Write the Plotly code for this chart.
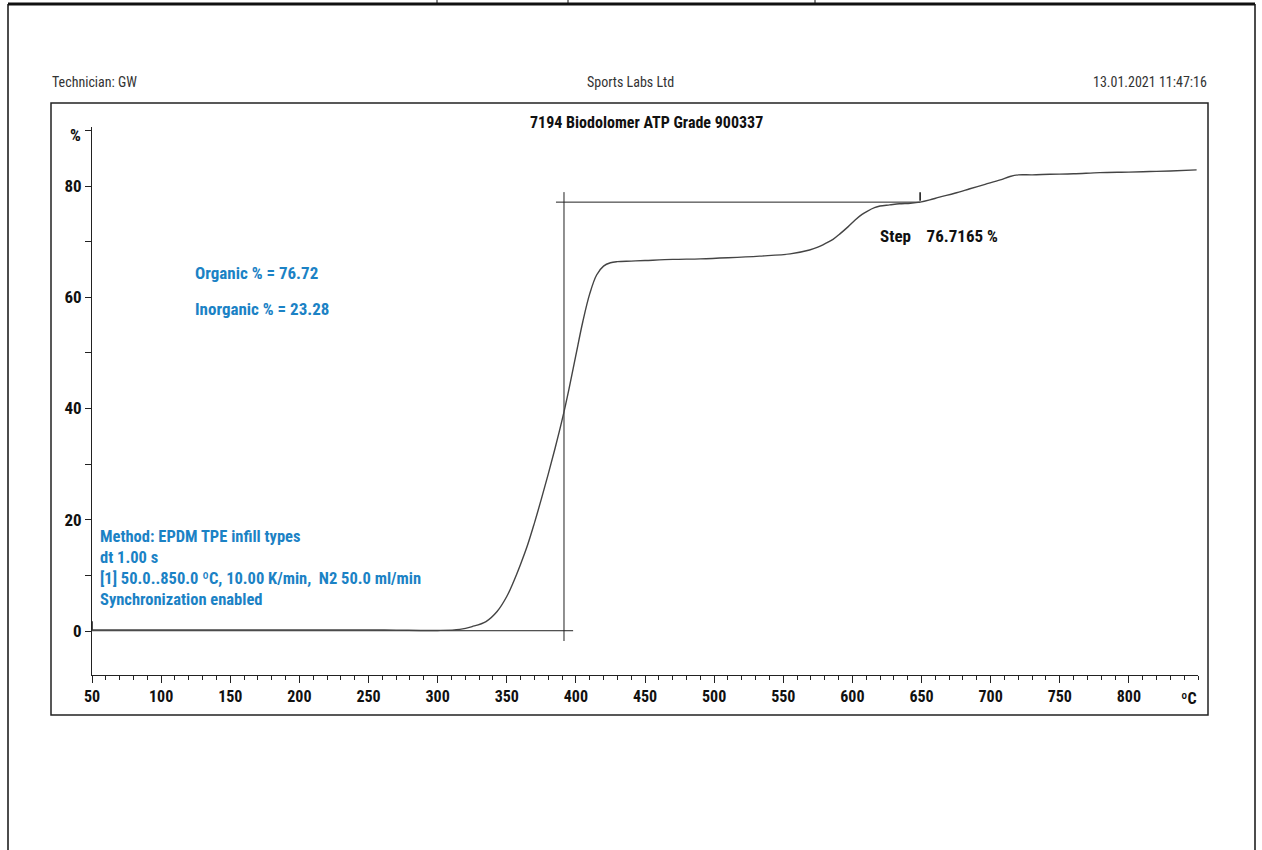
import plotly.graph_objects as go

# ---------------- data ----------------
temperature_c = [50, 70, 100, 150, 200, 250, 270, 300, 316, 325, 335, 343, 350, 355, 360, 365,
                 370, 375, 380, 385, 390, 395, 400, 405, 410, 415, 420, 425, 430, 440,
                 450, 470, 490, 510, 533, 555, 569, 575, 580, 586, 591, 597, 602, 607, 611, 616,
                 620, 627, 634, 642, 649, 656, 663, 674, 685, 696, 707, 714, 720, 730, 743, 760,
                 779, 800, 815, 830, 849]
mass_pct = [0.2, 0.2, 0.2, 0.2, 0.2, 0.2, 0.15, 0.1, 0.3, 0.8, 1.7, 3.5, 6.2, 8.9, 12.0, 15.4,
            19.4, 23.7, 28.2, 32.9, 37.9, 43.5, 49.6, 55.6, 60.6, 64.0, 65.6, 66.2, 66.4, 66.5,
            66.6, 66.8, 66.9, 67.1, 67.4, 67.8, 68.5, 69.0, 69.6, 70.4, 71.4, 72.7, 73.9, 74.9, 75.5, 76.1,
            76.4, 76.6, 76.8, 76.9, 77.1, 77.5, 78.0, 78.7, 79.5, 80.3, 81.1, 81.7, 82.0, 82.0, 82.1, 82.2,
            82.4, 82.5, 82.6, 82.7, 82.9]

# step evaluation construction lines
step_low_temps = [50, 398]
step_low_level = [0.05, 0.05]
step_high_temps = [385.6, 649]
step_high_level = [77.1, 77.1]
step_mid_temps = [391.4, 391.4]
step_mid_levels = [-1.8, 78.9]
event_temps = [50, 649]
event_levels = [1.0, 78.1]

x_tick_vals = [50, 100, 150, 200, 250, 300, 350, 400, 450, 500, 550, 600, 650, 700, 750, 800]
x_tick_text = ["50", "100", "150", "200", "250", "300", "350", "400", "450", "500", "550",
               "600", "650", "700", "750", "800"]
x_unit_text = "ºC"
x_unit_pos = 843.5
y_tick_vals = [0, 20, 40, 60, 80]
y_tick_text = ["0", "20", "40", "60", "80"]

title_text = "7194 Biodolomer ATP Grade 900337"
organic_text = "Organic % = 76.72"
inorganic_text = "Inorganic % = 23.28"
method_lines = ["Method: EPDM TPE infill types", "dt 1.00 s",
                "[1] 50.0..850.0 ºC, 10.00 K/min,  N2 50.0 ml/min", "Synchronization enabled"]
method_levels = [16.9, 13.3, 9.5, 5.75]
step_text = "Step&nbsp;&nbsp;&nbsp;&nbsp;76.7165 %"

# ---------------- layout geometry ----------------
W, H = 1262, 850
L, R, T, B = 92, 64, 127, 175
PW, PH = W - L - R, H - T - B
PX_PER_PCT = 5.5625


def px(xp):
    return (xp - L) / PW


def py(yp):
    return (H - B - yp) / PH


NARROW = "Liberation Sans Narrow, Roboto Condensed, Arial Narrow, Roboto, sans-serif"
BLUE = "#1b82c5"

fig = go.Figure()

for xs, ys in [(step_low_temps, step_low_level), (step_high_temps, step_high_level),
               (step_mid_temps, step_mid_levels)]:
    fig.add_trace(go.Scatter(x=xs, y=ys, mode="lines", line=dict(color="#222222", width=1),
                             hoverinfo="skip", showlegend=False))

fig.add_trace(go.Scatter(x=temperature_c, y=mass_pct, mode="lines", line_shape="spline",
                         line=dict(color="#444444", width=1.4), showlegend=False))
fig.add_trace(go.Scatter(x=event_temps, y=event_levels, mode="markers",
                         marker=dict(symbol="line-ns-open", size=6, color="#111",
                                     line=dict(color="#111", width=1.5)),
                         hoverinfo="skip", showlegend=False))

fig.update_xaxes(range=[50, 850], tickvals=x_tick_vals, ticktext=x_tick_text,
                 ticks="outside", ticklen=7, tickwidth=1, tickcolor="#222",
                 showline=True, linecolor="#222", linewidth=1, showgrid=False, zeroline=False,
                 minor=dict(dtick=10, tick0=50, ticks="outside", ticklen=4, tickcolor="#222", showgrid=False),
                 tickfont=dict(family=NARROW, size=16, color="#111", weight="bold"))
fig.update_yaxes(range=[-(675 - 631) / PX_PER_PCT, (631 - 127) / PX_PER_PCT],
                 tickvals=y_tick_vals, ticktext=y_tick_text,
                 ticks="outside", ticklen=6, tickwidth=1, tickcolor="#222",
                 showline=True, linecolor="#222", linewidth=1, showgrid=False, zeroline=False,
                 minor=dict(dtick=10, tick0=0, ticks="outside", ticklen=6, tickcolor="#222", showgrid=False),
                 tickfont=dict(family=NARROW, size=17, color="#111", weight="bold"))

shapes = []
# inner report frame
shapes.append(dict(type="rect", xref="paper", yref="paper", x0=px(51), x1=px(1208), y0=py(715), y1=py(103),
                   line=dict(color="#222", width=1.5)))
# page border
shapes.append(dict(type="line", xref="paper", yref="paper", x0=px(8), x1=px(8), y0=py(850), y1=py(4),
                   line=dict(color="#111", width=1.5)))
shapes.append(dict(type="line", xref="paper", yref="paper", x0=px(1255), x1=px(1255), y0=py(850), y1=py(4),
                   line=dict(color="#111", width=1.5)))
shapes.append(dict(type="line", xref="paper", yref="paper", x0=px(8), x1=px(1255), y0=py(4), y1=py(4),
                   line=dict(color="#111", width=3)))
for xs in [437, 568, 815]:
    shapes.append(dict(type="line", xref="paper", yref="paper", x0=px(xs), x1=px(xs), y0=py(4), y1=py(0),
                       line=dict(color="#111", width=1)))
fig.update_layout(shapes=shapes)

ann = []
hdr_font = dict(family=NARROW, size=14, color="#333")
ann.append(dict(text="Technician: GW", xref="paper", yref="paper", x=px(50), y=py(82),
                xanchor="left", yanchor="middle", showarrow=False, font=hdr_font))
ann.append(dict(text="Sports Labs Ltd", xref="paper", yref="paper", x=px(630), y=py(82),
                xanchor="center", yanchor="middle", showarrow=False, font=hdr_font))
ann.append(dict(text="13.01.2021 11:47:16", xref="paper", yref="paper", x=px(1209), y=py(82),
                xanchor="right", yanchor="middle", showarrow=False, font=hdr_font))
ann.append(dict(text=title_text, xref="paper", yref="paper", x=px(646), y=py(122),
                xanchor="center", yanchor="middle", showarrow=False,
                font=dict(family=NARROW, size=16, color="#111", weight="bold")))
ann.append(dict(text="%", xref="paper", yref="paper", x=px(75), y=py(135),
                xanchor="center", yanchor="middle", showarrow=False,
                font=dict(family=NARROW, size=17, color="#111", weight="bold")))
ann.append(dict(text=x_unit_text, xref="x", yref="paper", x=x_unit_pos, y=py(698),
                xanchor="center", yanchor="middle", showarrow=False,
                font=dict(family=NARROW, size=16, color="#111", weight="bold")))

org_font = dict(family=NARROW, size=17, color=BLUE, weight="bold")
blue_font = dict(family=NARROW, size=16.5, color=BLUE, weight="bold")
ann.append(dict(text=organic_text, x=123, y=64.4, xref="x", yref="y", xanchor="left", yanchor="middle",
                showarrow=False, font=org_font))
ann.append(dict(text=inorganic_text, x=123, y=57.9, xref="x", yref="y", xanchor="left", yanchor="middle",
                showarrow=False, font=org_font))
for line, lvl in zip(method_lines, method_levels):
    ann.append(dict(text=line, x=54.3, y=lvl, xref="x", yref="y",
                    xanchor="left", yanchor="middle", showarrow=False, font=blue_font))
ann.append(dict(text=step_text, x=618.5, y=71.0, xref="x", yref="y", xanchor="left", yanchor="middle",
                showarrow=False, font=dict(family=NARROW, size=17, color="#111", weight="bold")))
fig.update_layout(annotations=ann)

fig.update_layout(width=W, height=H, margin=dict(l=L, r=R, t=T, b=B),
                  paper_bgcolor="white", plot_bgcolor="white", showlegend=False)

fig.write_html("out.html", config={"displayModeBar": False},
               post_script="document.body.style.margin='0';document.body.style.overflow='hidden';")
